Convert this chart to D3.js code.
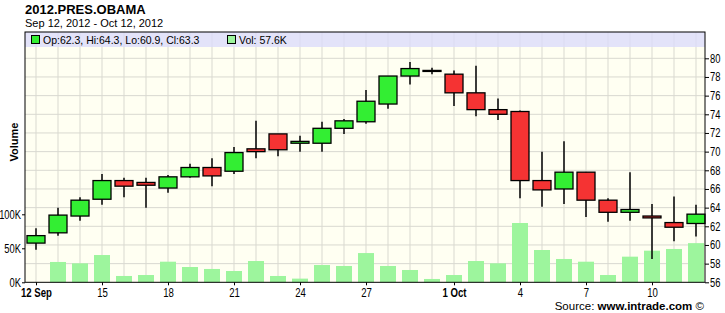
<!DOCTYPE html>
<html>
<head>
<meta charset="utf-8">
<script src="https://cdn.jsdelivr.net/npm/d3@7"></script>
<style>
  body { margin: 0; background: #ffffff; }
  svg { display: block; font-family: "Liberation Sans", Arial, sans-serif; }
</style>
</head>
<body>
<svg id="chart" width="725" height="313"></svg>
<script>
// daily candles, 12 Sep 2012 .. 12 Oct 2012
var days = ["2012-09-12","2012-09-13","2012-09-14","2012-09-15","2012-09-16","2012-09-17","2012-09-18","2012-09-19",
            "2012-09-20","2012-09-21","2012-09-22","2012-09-23","2012-09-24","2012-09-25","2012-09-26","2012-09-27",
            "2012-09-28","2012-09-29","2012-09-30","2012-10-01","2012-10-02","2012-10-03","2012-10-04","2012-10-05",
            "2012-10-06","2012-10-07","2012-10-08","2012-10-09","2012-10-10","2012-10-11","2012-10-12"];
var openP  = [60.2, 61.3, 63.1, 64.9, 66.9, 66.7, 66.1, 67.3, 68.3, 67.9, 70.3, 71.9, 70.9, 70.9, 72.5, 73.2,
              75.1, 78.1, 78.7, 78.3, 76.3, 74.5, 74.3, 66.9, 66.0, 67.8, 64.8, 63.5, 63.1, 62.4, 62.3];
var highP  = [61.8, 64.0, 65.1, 67.6, 67.2, 67.2, 67.5, 68.7, 69.3, 70.5, 73.3, 71.9, 71.7, 73.2, 73.5, 76.6,
              78.1, 79.6, 79.0, 78.7, 79.2, 75.7, 74.4, 70.0, 71.1, 67.8, 65.0, 67.8, 64.4, 65.2, 64.3];
var lowP   = [59.5, 61.0, 62.6, 64.3, 65.1, 64.0, 65.6, 67.2, 66.3, 67.6, 69.3, 69.5, 70.0, 70.0, 71.9, 73.0,
              74.6, 77.2, 78.3, 74.9, 73.8, 73.4, 65.0, 64.1, 64.4, 63.0, 62.5, 62.6, 58.5, 60.4, 60.9];
var closeP = [61.0, 63.2, 64.8, 66.9, 66.3, 66.4, 67.3, 68.3, 67.4, 69.9, 70.0, 70.2, 71.1, 72.5, 73.3, 75.4,
              78.1, 78.9, 78.7, 76.3, 74.5, 74.0, 66.9, 65.9, 67.8, 64.8, 63.5, 63.8, 62.9, 61.9, 63.3];
var volK   = [0, 29.9, 27.9, 40.1, 9.3, 10.7, 30.3, 22.5, 19.6, 16.6, 31.3, 9.3, 5.4, 25.4, 24.0, 43.0,
              24.0, 18.1, 4.9, 10.7, 31.3, 27.9, 87.2, 47.5, 34.3, 30.3, 10.7, 37.7, 46.5, 49.0, 57.6];
var priceTicks = [56, 58, 60, 62, 64, 66, 68, 70, 72, 74, 76, 78, 80];
var volTicks = [0, 50, 100];
var dateTicks = ["2012-09-12","2012-09-15","2012-09-18","2012-09-21","2012-09-24","2012-09-27",
                 "2012-10-01","2012-10-04","2012-10-07","2012-10-10"];

var parse = d3.timeParse("%Y-%m-%d");
var data = days.map(function (d, i) {
    return { date: parse(d), o: openP[i], h: highP[i], l: lowP[i], c: closeP[i], v: volK[i] };
});

var plotLeft = 25, plotRight = 705, plotTop = 32, plotBottom = 282.3;

var x = d3.scaleTime()
    .domain([parse(days[0]), parse(days[days.length - 1])])
    .range([36, 696]);
var y = d3.scaleLinear().domain([56, 80]).range([plotBottom, 58.3]);
var yVol = d3.scaleLinear().domain([0, 100]).range([plotBottom, 214.3]);

var svg = d3.select("#chart");

// squeeze glyphs horizontally, the original uses a narrow face
function narrow(sel, k) {
    sel.each(function () {
        var w = this.getComputedTextLength();
        d3.select(this).attr("textLength", w * k).attr("lengthAdjust", "spacingAndGlyphs");
    });
}

// title
svg.append("text").attr("x", 25).attr("y", 14)
    .style("font-size", "13px").style("font-weight", "bold").text("2012.PRES.OBAMA");
svg.append("text").attr("x", 25).attr("y", 27)
    .style("font-size", "11px").text("Sep 12, 2012 - Oct 12, 2012");

// plot background
svg.append("rect").attr("x", plotLeft).attr("y", plotTop)
    .attr("width", plotRight - plotLeft).attr("height", plotBottom - plotTop)
    .attr("fill", "#fffff2");

// grid
svg.append("g").selectAll("line").data(priceTicks.slice(1)).enter().append("line")
    .attr("x1", plotLeft).attr("x2", plotRight)
    .attr("y1", function (d) { return y(d); }).attr("y2", function (d) { return y(d); })
    .attr("stroke", "#d9d9d0").attr("stroke-width", 1);
svg.append("g").selectAll("line").data(data).enter().append("line")
    .attr("x1", function (d) { return x(d.date); }).attr("x2", function (d) { return x(d.date); })
    .attr("y1", plotTop).attr("y2", plotBottom)
    .attr("stroke", "#d9d9d0").attr("stroke-width", 1);

// volume bars
svg.append("g").selectAll("rect").data(data).enter().append("rect")
    .attr("x", function (d) { return x(d.date) - 8; })
    .attr("y", function (d) { return yVol(d.v); })
    .attr("width", 16)
    .attr("height", function (d) { return plotBottom - yVol(d.v); })
    .attr("fill", "#9df59d");

// candles
var candles = svg.append("g").selectAll("g").data(data).enter().append("g");
candles.append("line")
    .attr("x1", function (d) { return x(d.date); }).attr("x2", function (d) { return x(d.date); })
    .attr("y1", function (d) { return y(d.h); }).attr("y2", function (d) { return y(d.l); })
    .attr("stroke", "#000").attr("stroke-width", 1.5);
candles.append("rect")
    .attr("x", function (d) { return x(d.date) - 9; })
    .attr("y", function (d) { return y(Math.max(d.o, d.c)); })
    .attr("width", 18)
    .attr("height", function (d) { return Math.max(1, Math.abs(y(d.o) - y(d.c))); })
    .attr("fill", function (d) { return d.c > d.o ? "#33ee33" : d.c < d.o ? "#f53333" : "#000"; })
    .attr("stroke", "#000").attr("stroke-width", 1.3);

// legend band
svg.append("rect").attr("x", plotLeft).attr("y", plotTop).attr("width", plotRight - plotLeft).attr("height", 15)
    .attr("fill", "#dcdcfa").attr("opacity", 0.8);
svg.append("rect").attr("x", 31.5).attr("y", 35.5).attr("width", 8).attr("height", 8)
    .attr("fill", "#33ee33").attr("stroke", "#000");
svg.append("text").attr("x", 43).attr("y", 43.5).style("font-size", "10.5px")
    .text("Op:62.3, Hi:64.3, Lo:60.9, Cl:63.3");
svg.append("rect").attr("x", 227.5).attr("y", 35.5).attr("width", 8).attr("height", 8)
    .attr("fill", "#9df59d").attr("stroke", "#000");
svg.append("text").attr("x", 239).attr("y", 43.5).style("font-size", "10.5px")
    .text("Vol: 57.6K");

// frame
svg.append("rect").attr("x", plotLeft).attr("y", plotTop)
    .attr("width", plotRight - plotLeft).attr("height", plotBottom - plotTop)
    .attr("fill", "none").attr("stroke", "#000").attr("stroke-width", 1);

// right price axis
var axR = svg.append("g").attr("transform", "translate(" + plotRight + ",0)")
    .call(d3.axisRight(y).tickValues(priceTicks).tickSize(4).tickPadding(1).tickFormat(d3.format("d")));
axR.select(".domain").remove();
axR.selectAll("text").style("font-size", "12px").style("font-family", "Liberation Sans, Arial").call(narrow, 0.78);

// left volume axis
var axL = svg.append("g").attr("transform", "translate(" + plotLeft + ",0)")
    .call(d3.axisLeft(yVol).tickValues(volTicks).tickSize(3).tickPadding(1)
        .tickFormat(function (d) { return d + "K"; }));
axL.select(".domain").remove();
axL.selectAll("text").style("font-size", "12px").style("font-family", "Liberation Sans, Arial").call(narrow, 0.78);

// bottom date axis
function isBold(d) { return d.getDate() === 1 || (d.getDate() === 12 && d.getMonth() === 8); }
var axB = svg.append("g").attr("transform", "translate(0," + plotBottom + ")")
    .call(d3.axisBottom(x).tickValues(dateTicks.map(parse)).tickSize(3).tickPadding(3)
        .tickFormat(function (d) { return isBold(d) ? d3.timeFormat("%-d %b")(d) : d.getDate(); }));
axB.select(".domain").remove();
axB.selectAll("text").style("font-size", "12px").style("font-family", "Liberation Sans, Arial")
    .style("font-weight", function (d) { return isBold(d) ? "bold" : "normal"; })
    .call(narrow, 0.8);

// volume label
svg.append("text").attr("transform", "translate(18,142) rotate(-90)")
    .attr("text-anchor", "middle").style("font-size", "11px").style("font-weight", "bold")
    .text("Volume");

// source
var src = svg.append("text").attr("x", 704).attr("y", 310)
    .attr("text-anchor", "end").style("font-size", "11.5px");
src.append("tspan").text("Source: ");
src.append("tspan").style("font-weight", "bold").text("www.intrade.com");
src.append("tspan").text(" \u00a9");
</script>
</body>
</html>
